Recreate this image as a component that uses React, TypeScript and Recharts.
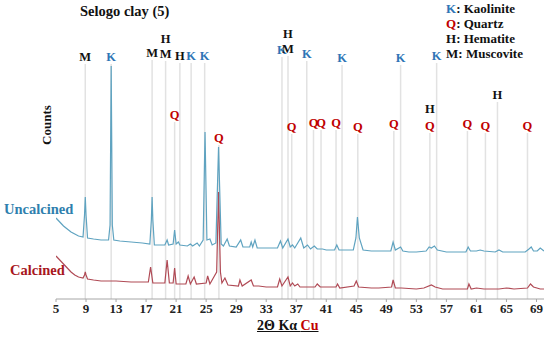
import React from "react";
import { LineChart, Line, XAxis, YAxis, ReferenceLine, ReferenceDot } from "recharts";

// [2θ, counts]
const uncalcined: [number, number][] = [
    [5.0, 405], [5.5, 385], [6.0, 365], [6.5, 350], [7.0, 335], [7.5, 325], [8.0, 315], [8.6, 310],
    [8.8, 420], [8.9, 510], [9.0, 420], [9.2, 305], [10, 300], [11, 295], [12.0, 295], [12.2, 370],
    [12.35, 1165], [12.5, 370], [12.7, 295], [13.5, 290], [15, 285], [16.5, 280], [17.5, 275],
    [17.7, 395], [17.8, 510], [17.9, 395], [18.1, 270], [19.5, 270], [19.8, 295], [20.0, 270],
    [20.6, 275], [20.8, 345], [21.0, 275], [21.3, 285], [21.5, 270], [22.5, 265], [22.9, 275],
    [23.2, 265], [23.8, 280], [24.1, 265], [24.6, 295], [24.85, 835], [25.1, 295], [25.5, 300],
    [25.8, 270], [26.3, 280], [26.65, 760], [27.0, 275], [27.3, 265], [27.8, 300], [28.1, 265],
    [29.0, 260], [29.6, 295], [29.9, 260], [30.8, 260], [31.0, 285], [31.2, 260], [31.5, 295],
    [31.8, 255], [33, 255], [34.5, 255], [34.9, 290], [35.2, 255], [35.9, 300], [36.2, 260],
    [36.5, 270], [36.8, 255], [37.6, 305], [38.0, 255], [38.5, 270], [38.9, 250], [39.4, 265],
    [39.8, 250], [40.5, 250], [41, 245], [42.1, 245], [42.4, 270], [42.7, 245], [44.6, 245],
    [44.95, 305], [45.15, 410], [45.4, 305], [45.9, 245], [47, 240], [48, 240], [49.6, 240],
    [49.9, 285], [50.2, 245], [50.9, 260], [51.2, 240], [52, 235], [53, 235], [54.3, 240],
    [54.7, 260], [55.0, 255], [55.4, 265], [55.8, 245], [57, 235], [58, 235], [59.6, 235],
    [59.9, 260], [60.2, 240], [61, 240], [61.5, 245], [62, 240], [63.5, 235], [64, 245],
    [64.5, 235], [66, 235], [67.5, 235], [68.0, 250], [68.3, 260], [68.6, 240], [69.1, 240],
    [69.5, 255], [70, 240],
];

const calcined: [number, number][] = [
    [5.0, 215], [5.5, 195], [6.0, 175], [6.5, 155], [7.0, 135], [7.5, 120], [8.0, 110], [8.6, 105],
    [8.8, 120], [8.9, 135], [9.0, 120], [9.2, 100], [10, 95], [11, 90], [13, 90], [15, 85],
    [17.3, 85], [17.6, 160], [17.9, 80], [19.5, 80], [19.8, 195], [20.1, 80], [20.6, 80],
    [20.8, 155], [21.0, 75], [22.3, 75], [22.6, 115], [22.9, 75], [23.4, 110], [23.7, 75],
    [25.0, 80], [25.2, 115], [25.5, 75], [26.1, 115], [26.4, 135], [26.65, 535], [26.9, 135],
    [27.1, 80], [27.5, 105], [27.9, 70], [29.3, 65], [29.5, 95], [29.8, 65], [31.0, 95],
    [31.3, 65], [32, 65], [33, 60], [34.5, 60], [34.8, 100], [35.1, 65], [35.9, 110], [36.2, 65],
    [36.5, 80], [36.8, 65], [37.2, 75], [37.5, 60], [39.5, 60], [39.8, 75], [40.2, 60],
    [42.3, 60], [42.5, 75], [42.8, 55], [44.7, 65], [45.0, 90], [45.3, 60], [47, 55], [48, 55],
    [49.7, 60], [49.9, 95], [50.2, 55], [51, 55], [53, 50], [54, 55], [55.0, 70], [55.5, 60],
    [56.5, 50], [58, 50], [59.8, 50], [60.0, 75], [60.3, 50], [61, 55], [62, 50], [64, 50],
    [65, 55], [66, 50], [67.8, 55], [68.2, 75], [68.6, 60], [69.5, 50], [70, 50],
];

// phase markers: 2θ, letter, height of the guide line
const markerTheta = [8.9, 12.35, 17.8, 19.6, 21.5, 23.0, 24.8, 20.8, 26.7, 35.1, 35.9, 36.4, 38.4, 39.3, 40.3, 42.3, 43.1, 45.2, 50.0, 50.9, 54.8, 55.7, 59.8, 62.2, 63.8, 67.8];
const markerPhase = ["M", "K", "M", "M", "H", "K", "K", "Q", "Q", "K", "M", "Q", "K", "Q", "Q", "Q", "K", "Q", "Q", "K", "Q", "K", "Q", "Q", "H", "Q"];
const markerTop = [1175, 1175, 1195, 1190, 1180, 1180, 1180, 885, 770, 1210, 1215, 825, 1190, 845, 845, 845, 1170, 825, 840, 1170, 830, 1180, 840, 830, 985, 830];

// extra letters stacked above a guide line
const stackedTheta = [19.6, 35.9, 54.8];
const stackedPhase = ["H", "H", "H"];
const stackedLevel = [1300, 1325, 950];

const xTicks = [5, 9, 13, 17, 21, 25, 29, 33, 37, 41, 45, 49, 53, 57, 61, 65, 69];
const legendItems = [["K", "Kaolinite"], ["Q", "Quartz"], ["H", "Hematite"], ["M", "Muscovite"]];

const serif = "'Liberation Serif', 'Times New Roman', serif";
const phaseColor: Record<string, string> = { K: "#2e75b6", Q: "#c00000", H: "#111", M: "#111" };

const toPts = (arr: [number, number][]) => arr.map(([t, c]) => ({ t, c }));

export default function App() {
    return (
        <div style={{ position: "absolute", left: 0, top: 0, width: 550, height: 337, background: "#fff", fontFamily: serif }}>
            <LineChart width={550} height={337} margin={{ top: 19, right: 6, left: 56, bottom: 0 }}>
                <XAxis dataKey="t" type="number" domain={[5, 70]} ticks={xTicks} allowDataOverflow
                       height={38} tickSize={3} axisLine={{ stroke: "#a6a6a6" }} tickLine={{ stroke: "#a6a6a6" }}
                       tick={{ fontFamily: serif, fontSize: 13, fontWeight: 700, fill: "#222" }} />
                <YAxis type="number" domain={[0, 1400]} width={0} tick={false} tickLine={false}
                       axisLine={{ stroke: "#a6a6a6" }} />
                {markerTheta.map((x, i) => (
                    <ReferenceLine key={"m" + i} segment={[{ x, y: markerTop[i] }, { x, y: 0 }]}
                                   stroke="#e2e2e2" strokeWidth={1.5}
                                   label={{ value: markerPhase[i], position: "top", offset: 3, fill: phaseColor[markerPhase[i]],
                                            fontFamily: serif, fontSize: 12.5, fontWeight: 700 }} />
                ))}
                {stackedTheta.map((x, i) => (
                    <ReferenceDot key={"s" + i} x={x} y={stackedLevel[i]} r={0} stroke="none"
                                  label={{ value: stackedPhase[i], position: "center", fill: phaseColor[stackedPhase[i]],
                                           fontFamily: serif, fontSize: 12.5, fontWeight: 700 }} />
                ))}
                <Line data={toPts(calcined)} dataKey="c" type="linear" stroke="#b04a55" strokeWidth={1.2} dot={false} isAnimationActive={false} />
                <Line data={toPts(uncalcined)} dataKey="c" type="linear" stroke="#5fa3c0" strokeWidth={1.2} dot={false} isAnimationActive={false} />
            </LineChart>

            <div style={{ position: "absolute", left: 80, top: 3, fontSize: 14.5, fontWeight: 700, color: "#111" }}>Selogo clay (5)</div>
            <div style={{ position: "absolute", left: 446, top: 1, fontSize: 13, fontWeight: 700, lineHeight: "15px", color: "#111" }}>
                {legendItems.map(([k, name]) => (
                    <div key={k}><span style={{ color: phaseColor[k] }}>{k}</span>: {name}</div>
                ))}
            </div>
            <div style={{ position: "absolute", left: 47, top: 125, transform: "translate(-50%, -50%) rotate(-90deg)",
                          fontSize: 13, fontWeight: 700, color: "#111" }}>Counts</div>
            <div style={{ position: "absolute", left: 4, top: 201, fontSize: 14.5, fontWeight: 700, color: "#2f7fae" }}>Uncalcined</div>
            <div style={{ position: "absolute", left: 10, top: 262, fontSize: 14.5, fontWeight: 700, color: "#a8171e" }}>Calcined</div>
            <div style={{ position: "absolute", left: 257, top: 318, fontSize: 14, fontWeight: 700, color: "#111",
                          textDecoration: "underline" }}>
                2Θ Kα <span style={{ color: "#c00000" }}>Cu</span>
            </div>
        </div>
    );
}
